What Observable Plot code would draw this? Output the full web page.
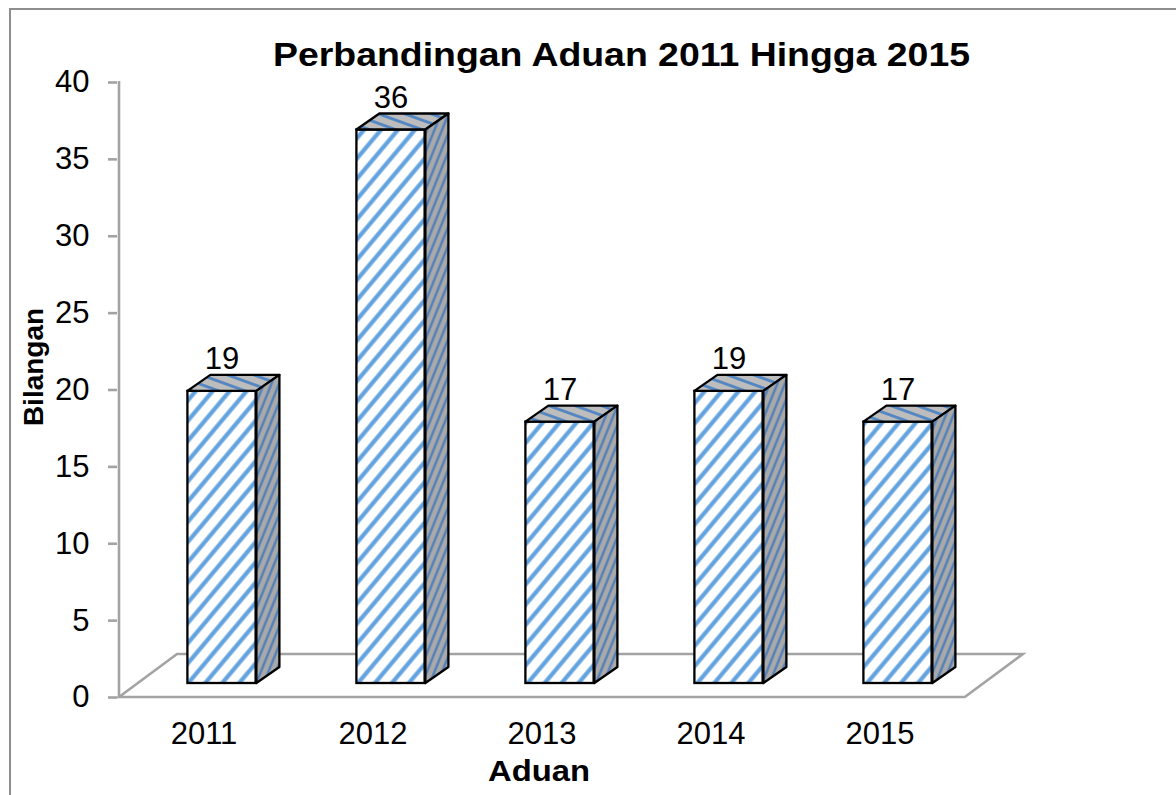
<!DOCTYPE html>
<html>
<head>
<meta charset="utf-8">
<script src="https://cdn.jsdelivr.net/npm/d3@7"></script>
<script src="https://cdn.jsdelivr.net/npm/@observablehq/plot@0.6"></script>
<style>
html, body { margin: 0; padding: 0; background: #fff; }
#wrap { position: relative; width: 1176px; height: 795px; overflow: hidden; font-family: "Liberation Sans", Arial, sans-serif; }
#border { position: absolute; left: 9px; top: 8px; width: 1300px; height: 1000px; border: 2px solid #8e8e8e; box-sizing: border-box; }
#chart { position: absolute; left: 0; top: 0; }
#overlay { position: absolute; left: 0; top: 0; pointer-events: none; }
</style>
</head>
<body>
<div id="wrap">
  <div id="border"></div>
  <svg width="0" height="0" style="position:absolute">
    <defs>
      <pattern id="hatchFront" patternUnits="userSpaceOnUse" width="13" height="13" patternTransform="rotate(40)">
        <rect width="13" height="13" fill="#ffffff"/>
        <line x1="6.5" y1="-1" x2="6.5" y2="14" stroke="#62a2de" stroke-width="4.2"/>
      </pattern>
      <pattern id="hatchTop" patternUnits="userSpaceOnUse" width="9" height="9" patternTransform="rotate(-70)">
        <rect width="9" height="9" fill="#bdbdbd"/>
        <line x1="4.5" y1="-1" x2="4.5" y2="10" stroke="#5084c2" stroke-width="2.8"/>
      </pattern>
      <pattern id="hatchSide" patternUnits="userSpaceOnUse" width="7" height="7" patternTransform="rotate(22)">
        <rect width="7" height="7" fill="#a9a9a9"/>
        <line x1="3.5" y1="-1" x2="3.5" y2="8" stroke="#4a7cba" stroke-width="2.2"/>
      </pattern>
    </defs>
  </svg>
  <div id="chart"></div>
  <svg id="overlay" width="1176" height="795"></svg>
</div>
<script>
// ---- data ----
const years = ["2011", "2012", "2013", "2014", "2015"];
const counts = [19, 36, 17, 19, 17];
const yTicks = [0, 5, 10, 15, 20, 25, 30, 35, 40];
const titleText = "Perbandingan Aduan 2011 Hingga 2015";
const xTitle = "Aduan";
const yTitle = "Bilangan";

const rows = years.map((year, i) => ({year, count: counts[i]}));

// ---- 3D look constants ----
const W = 1176, H = 795;
const mL = 117, mR = 210, mT = 82, mB = 98;
const bandW = (W - mL - mR) / years.length;
const BAR_W = 69;            // front face width
const BAR_DX = 18, BAR_DY = -14;   // front face offset from floor front edge
const DEP_X = 23, DEP_Y = -16;     // bar depth
const FLOOR_X = 58, FLOOR_Y = -43; // floor depth
const FONT = "Liberation Sans, Arial, sans-serif";

const floorMark = (index, scales) => {
  const x = scales.x, y = scales.y;
  const x0 = x(years[0]);
  const x1 = x(years[years.length - 1]) + bandW;
  const yb = y(0), yt = y(yTicks[yTicks.length - 1]);
  const g = d3.create("svg:g").attr("fill", "none").attr("stroke", "#a3a3a3").attr("stroke-width", 2.6);
  g.append("path").attr("d", `M${x0},${yb}L${x0 + FLOOR_X},${yb + FLOOR_Y}L${x1 + FLOOR_X},${yb + FLOOR_Y}L${x1},${yb}Z`);
  g.append("line").attr("x1", x0).attr("x2", x0).attr("y1", yt - 1).attr("y2", yb);
  return g.node();
};

const sidesMark = (index, scales) => {
  const x = scales.x, y = scales.y;
  const g = d3.create("svg:g").attr("stroke", "#000").attr("stroke-width", 2.3).attr("stroke-linejoin", "round");
  rows.forEach(d => {
    const fx0 = x(d.year) + (bandW - BAR_W) / 2 + BAR_DX;
    const fx1 = fx0 + BAR_W;
    const fyT = y(d.count) + BAR_DY;
    const fyB = y(0) + BAR_DY;
    g.append("path").attr("fill", "url(#hatchTop)")
      .attr("d", `M${fx0},${fyT}L${fx0 + DEP_X},${fyT + DEP_Y}L${fx1 + DEP_X},${fyT + DEP_Y}L${fx1},${fyT}Z`);
    g.append("path").attr("fill", "url(#hatchSide)")
      .attr("d", `M${fx1},${fyT}L${fx1 + DEP_X},${fyT + DEP_Y}L${fx1 + DEP_X},${fyB + DEP_Y}L${fx1},${fyB}Z`);
  });
  return g.node();
};

const chart = Plot.plot({
  width: W, height: H,
  marginLeft: mL, marginRight: mR, marginTop: mT, marginBottom: mB,
  style: {fontFamily: FONT, background: "transparent", overflow: "visible"},
  x: {type: "band", domain: years, padding: 0, axis: null, label: null},
  y: {domain: [0, 40], axis: null, label: null},
  marks: [
    floorMark,
    Plot.axisY({ticks: yTicks, tickSize: 9, tickPadding: 19, fontSize: 31, stroke: "#a3a3a3", strokeWidth: 2.6, label: null, tickFormat: d => String(d)}),
    Plot.barY(rows, {
      x: "year", y: "count",
      fill: "url(#hatchFront)", stroke: "#000", strokeWidth: 2.3,
      insetLeft: (bandW - BAR_W) / 2, insetRight: (bandW - BAR_W) / 2,
      dx: BAR_DX, dy: BAR_DY
    }),
    sidesMark,
    Plot.text(rows, {x: "year", y: "count", text: d => String(d.count), dx: 18, dy: -46, fontSize: 31, fill: "#000"}),
    Plot.text(years, {x: d => d, text: d => d, frameAnchor: "bottom", dy: 46, fontSize: 31, fill: "#000"})
  ]
});
document.getElementById("chart").appendChild(chart);

// ---- titles ----
const ov = d3.select("#overlay").attr("font-family", FONT);
ov.append("text").attr("x", 621.5).attr("y", 66).attr("text-anchor", "middle")
  .attr("font-weight", "bold").attr("font-size", 33)
  .attr("textLength", 697).attr("lengthAdjust", "spacingAndGlyphs").text(titleText);
ov.append("text").attr("x", 539).attr("y", 781).attr("text-anchor", "middle")
  .attr("font-weight", "bold").attr("font-size", 30)
  .attr("textLength", 102).attr("lengthAdjust", "spacingAndGlyphs").text(xTitle);
ov.append("text").attr("transform", "translate(43,367) rotate(-90)").attr("text-anchor", "middle")
  .attr("font-weight", "bold").attr("font-size", 28).text(yTitle);
</script>
</body>
</html>
